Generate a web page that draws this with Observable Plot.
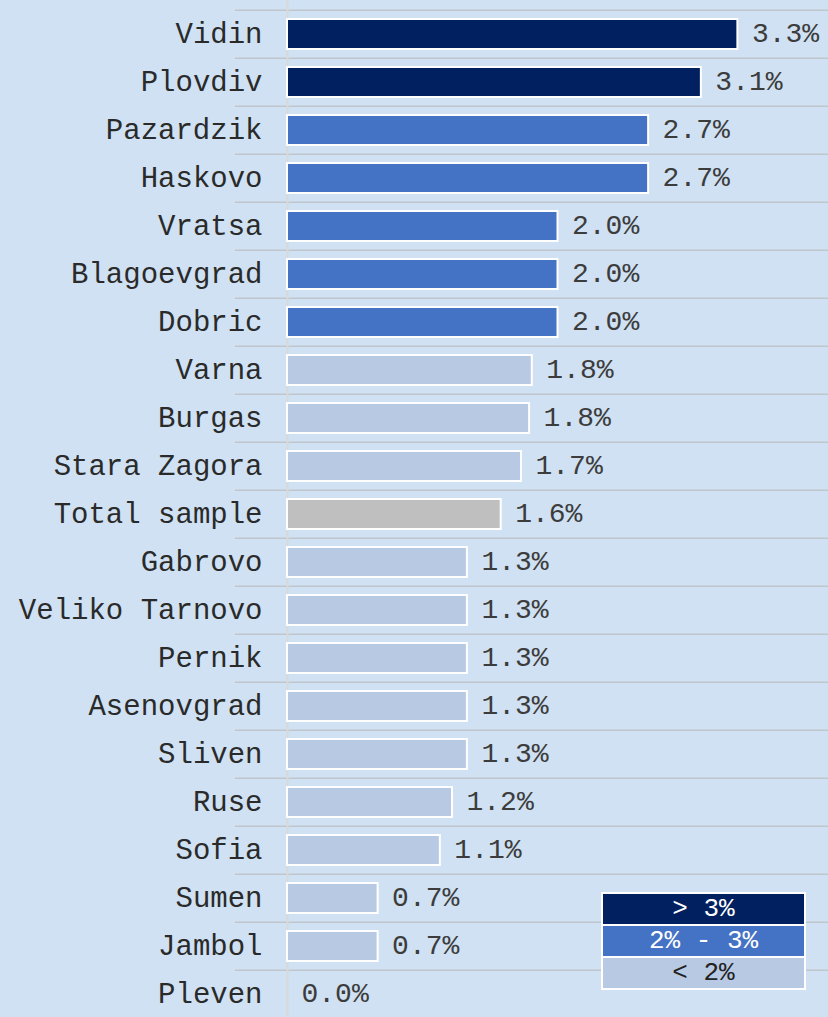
<!DOCTYPE html>
<html>
<head>
<meta charset="utf-8">
<script src="https://cdn.jsdelivr.net/npm/d3@7"></script>
<script src="https://cdn.jsdelivr.net/npm/@observablehq/plot@0.6"></script>
<style>
  html, body { margin: 0; padding: 0; background: #cfe1f2; overflow: hidden; width: 828px; height: 1017px; }
  #chart { position: relative; width: 828px; height: 1017px; }
  #legend { position: absolute; left: 601px; top: 892px; width: 201px; padding: 2px; background: #ffffff;
            display: flex; flex-direction: column; gap: 2px; }
  #legend .row { height: 30px; line-height: 30px; text-align: center; white-space: pre;
                 font-family: 'Liberation Mono', monospace; font-size: 26px; }
</style>
</head>
<body>
<div id="chart"></div>
<script>
// ---- data ----
const categories = ["Vidin", "Plovdiv", "Pazardzik", "Haskovo", "Vratsa", "Blagoevgrad", "Dobric",
  "Varna", "Burgas", "Stara Zagora", "Total sample", "Gabrovo", "Veliko Tarnovo", "Pernik",
  "Asenovgrad", "Sliven", "Ruse", "Sofia", "Sumen", "Jambol", "Pleven"];
const values = [3.33, 3.06, 2.67, 2.67, 2.0, 2.0, 2.0,
  1.81, 1.79, 1.73, 1.58, 1.33, 1.33, 1.33,
  1.33, 1.33, 1.22, 1.13, 0.67, 0.67, 0.0];
const groups = ["high", "high", "mid", "mid", "mid", "mid", "mid",
  "low", "low", "low", "total", "low", "low", "low",
  "low", "low", "low", "low", "low", "low", "low"];
const groupDomain = ["high", "mid", "low", "total"];
const groupColors = ["#002060", "#4472c4", "#b8c9e3", "#bfbfbf"];
const legendLabels = ["> 3%", "2% - 3%", "< 2%"];
const legendGroups = ["high", "mid", "low"];
const legendTextColors = ["#ffffff", "#ffffff", "#222222"];

// ---- chart ----
const data = categories.map((c, i) => ({ region: c, value: values[i], group: groups[i] }));
const W = 828, H = 1021, MT = 7, MB = 0;
const step = (H - MT - MB) / categories.length;

const chart = Plot.plot({
  width: W,
  height: H,
  marginLeft: 287,
  marginRight: 0,
  marginTop: MT,
  marginBottom: MB,
  style: { background: "transparent", fontFamily: "'Liberation Mono', monospace", fontSize: "29px", color: "#2a2a2a", overflow: "visible" },
  x: { domain: [0, 4], axis: null },
  y: { domain: categories, paddingInner: 0.38, paddingOuter: 0.19, axis: null },
  color: { domain: groupDomain, range: groupColors },
  marks: [
    Plot.ruleY(categories, { y: d => d, dy: -step / 2, stroke: "#bfc6cc", strokeWidth: 1.5, insetLeft: -52 }),
    Plot.ruleX([0], { stroke: "#d9d9d9", strokeWidth: 2, insetTop: -MT }),
    Plot.barX(data, { filter: d => d.value > 0, x: "value", y: "region", fill: "group", stroke: "#ffffff", strokeWidth: 2 }),
    Plot.text(data, { x: "value", y: "region", text: d => d.value.toFixed(1) + "%", textAnchor: "start", dx: 14, dy: -1, fontSize: 28, fill: "#3c3c3c" }),
    Plot.axisY({ tickSize: 0, tickPadding: 25, label: null, fontSize: 29, fill: "#2a2a2a", dy: -1 })
  ]
});
document.getElementById("chart").appendChild(chart);

// ---- legend ----
const colorOf = g => groupColors[groupDomain.indexOf(g)];
const legend = d3.select("#chart").append("div").attr("id", "legend");
legend.selectAll("div.row")
  .data(legendLabels)
  .join("div")
  .attr("class", "row")
  .style("background", (d, i) => colorOf(legendGroups[i]))
  .style("color", (d, i) => legendTextColors[i])
  .text(d => d);
</script>
</body>
</html>
